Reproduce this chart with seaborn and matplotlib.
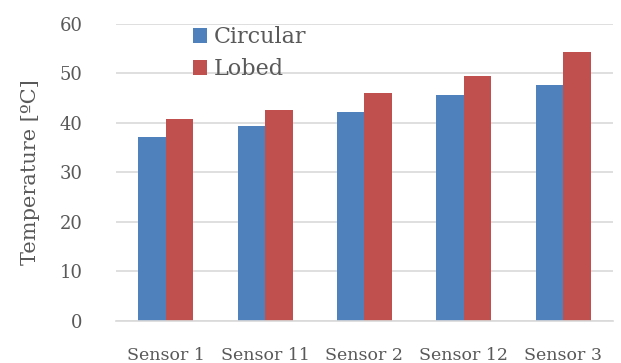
import matplotlib
matplotlib.use("Agg")
import matplotlib.pyplot as plt
import seaborn as sns
import pandas as pd

sensors = ["Sensor 1", "Sensor 11", "Sensor 2", "Sensor 12", "Sensor 3"]
circular = [37.2, 39.4, 42.3, 45.7, 47.7]
lobed = [40.9, 42.6, 46.1, 49.5, 54.4]
series_names = ["Circular", "Lobed"]
y_ticks = [0, 10, 20, 30, 40, 50, 60]

df = pd.DataFrame({
    "Sensor": sensors * 2,
    "Temperature": circular + lobed,
    "Shape": [series_names[0]] * len(sensors) + [series_names[1]] * len(sensors),
})

sns.set_theme(style="white")
plt.rcParams["font.family"] = ["DejaVu Serif"]
text_color = "#595959"

fig = plt.figure(figsize=(6.21, 3.63), dpi=100)
ax = fig.add_axes([0.1868, 0.1157, 0.8002, 0.8182])

sns.barplot(data=df, x="Sensor", y="Temperature", hue="Shape",
            hue_order=series_names, order=sensors,
            palette=["#4F81BD", "#C0504D"], width=0.555, gap=0,
            linewidth=0, saturation=1, ax=ax, legend=True)

ax.set_ylim(0, 60)
ax.set_xlim(-0.5, len(sensors) - 0.5)
ax.set_yticks(y_ticks)
ax.set_yticklabels([str(t) for t in y_ticks], fontsize=13, color=text_color)
ax.tick_params(axis="x", labelsize=12.5, colors=text_color, length=0, pad=19)
ax.tick_params(axis="y", length=0, pad=24)
for lab in ax.get_xticklabels():
    lab.set_color(text_color)
ax.yaxis.grid(True, color="#D9D9D9", linewidth=1.2)
ax.set_axisbelow(True)
for s in ["top", "right", "left"]:
    ax.spines[s].set_visible(False)
ax.spines["bottom"].set_color("#D9D9D9")
ax.spines["bottom"].set_linewidth(1.2)

ax.set_xlabel("")
ax.set_ylabel("Temperature [ºC]", fontsize=15, color=text_color, labelpad=14)

handles, labels = ax.get_legend_handles_labels()
ax.get_legend().remove()
leg = fig.legend(handles, labels, loc="upper left",
                 bbox_to_anchor=(193 / 621, 1 - 26 / 363), frameon=False,
                 fontsize=16, handlelength=0.65, handleheight=0.65,
                 handletextpad=0.3, labelspacing=0.45, borderpad=0,
                 borderaxespad=0)
for t in leg.get_texts():
    t.set_color(text_color)

fig.savefig("out.png", dpi=100)
